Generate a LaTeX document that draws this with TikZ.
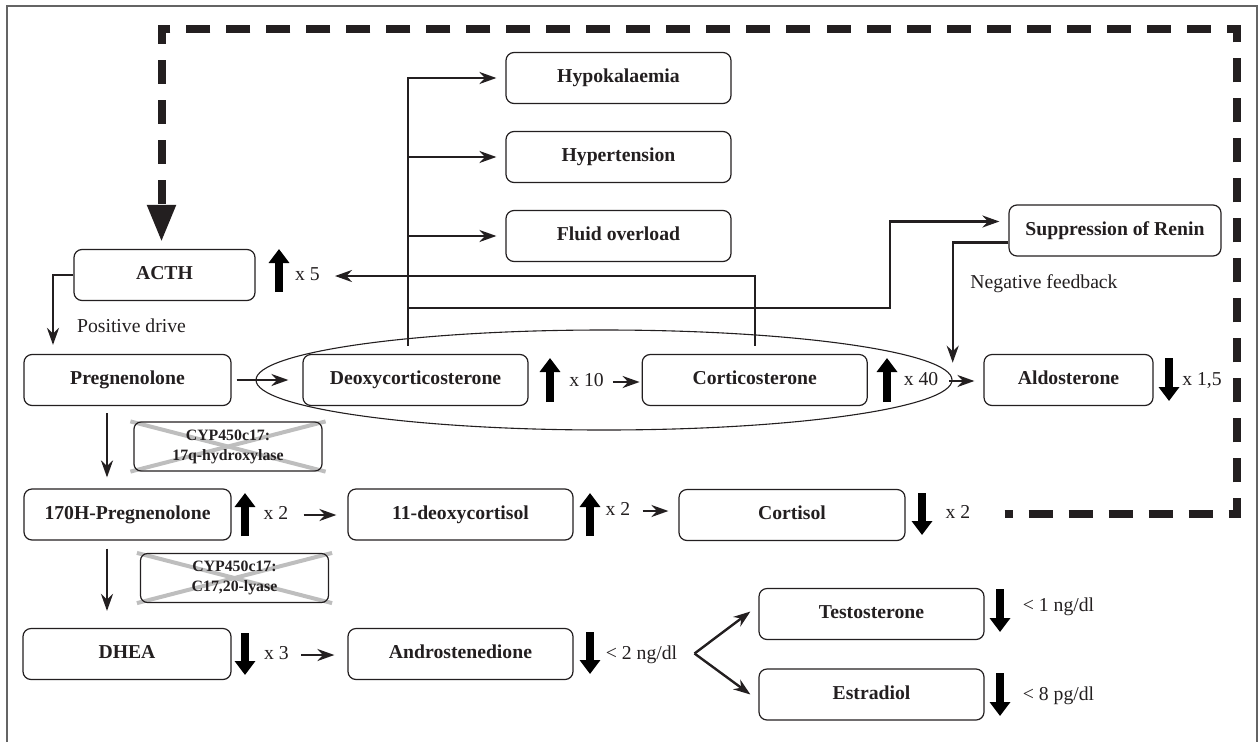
\documentclass[tikz,border=0pt]{standalone}
\usepackage{fontspec}
\setmainfont{Liberation Serif}
\usetikzlibrary{arrows.meta,backgrounds}
\definecolor{ink}{RGB}{35,31,32}
\definecolor{crossgray}{RGB}{190,190,190}
\definecolor{framegray}{RGB}{100,100,100}
\newcommand{\diagfont}{\fontsize{19.7pt}{23pt}\selectfont}
\newcommand{\enzfont}{\fontsize{15.8pt}{20pt}\selectfont}

\begin{document}
\begin{tikzpicture}[x=1pt,y=-1pt,
  hbox/.style={draw=ink,text=ink,rounded corners=8pt,line width=1.2pt,minimum height=51pt,
    text height=13pt,text depth=4pt,font=\bfseries\diagfont},
  enzbox/.style={draw=ink,text=ink,rounded corners=7pt,line width=1.2pt,minimum width=188pt,
    minimum height=49pt,align=center,font=\bfseries\enzfont},
  note/.style={text=ink,inner sep=0pt,text height=13pt,text depth=4pt,font=\diagfont},
  flow/.style={draw=ink,line width=2.4pt,-{Stealth[length=17pt,width=12pt]}},
  trend/.style={draw=black,line width=8pt,-{Triangle[length=14pt,width=20pt]}},
  feedback/.style={draw=ink,line width=8pt,dash pattern=on 24pt off 16pt,dash phase=16pt,
    -{Triangle[length=37pt,width=27pt]}}]
\useasboundingbox (0,0) rectangle (1260,742);
% frame, open at the bottom
\draw[framegray,line width=1.5pt] (7,742) -- (7,6) -- (1257,6) -- (1257,742);

% mineralocorticoid group
\draw[ink,line width=1.1pt] (604,380) ellipse [x radius=348,y radius=50];

% hormones
\node[hbox,minimum width=181pt] (acth) at (164.5,275) {ACTH};
\node[hbox,minimum width=207pt] (preg) at (127.5,380) {Pregnenolone};
\node[hbox,minimum width=225pt] (deoxy) at (415.5,380) {Deoxycorticosterone};
\node[hbox,minimum width=225pt] (cortico) at (754.7,380) {Corticosterone};
\node[hbox,minimum width=169pt] (aldo) at (1068.5,380) {Aldosterone};
\node[hbox,minimum width=212pt] (renin) at (1115,230.5) {Suppression of Renin};
\node[hbox,minimum width=225pt] (hypok) at (618.5,78) {Hypokalaemia};
\node[hbox,minimum width=225pt] (hypert) at (618.5,157) {Hypertension};
\node[hbox,minimum width=225pt] (fluid) at (618.5,236) {Fluid overload};
\node[hbox,minimum width=207pt] (ohpreg) at (127.5,514.5) {170H-Pregnenolone};
\node[hbox,minimum width=225pt] (deoxcort) at (460.5,514.5) {11-deoxycortisol};
\node[hbox,minimum width=226pt] (cortisol) at (792,515) {Cortisol};
\node[hbox,minimum width=208pt] (dhea) at (127,654) {DHEA};
\node[hbox,minimum width=225pt] (andro) at (460.5,654) {Androstenedione};
\node[hbox,minimum width=225pt] (testo) at (871.5,614) {Testosterone};
\node[hbox,minimum width=225pt] (estr) at (871.5,694.5) {Estradiol};

% blocked enzymes
\node[enzbox] (enzA) at (228,446.5) {CYP450c17:\\17q-hydroxylase};
\node[enzbox] (enzB) at (234.5,578) {CYP450c17:\\C17,20-lyase};
\begin{scope}[on background layer]
  \foreach \e in {enzA,enzB} {
    \draw[crossgray,line width=4pt] ([xshift=-3pt]\e.north west) -- ([xshift=3pt]\e.south east);
    \draw[crossgray,line width=4pt] ([xshift=-3pt]\e.south west) -- ([xshift=3pt]\e.north east);
  }
\end{scope}

% levels
\node[note] (facth) at (307.5,276) {x 5};
\node[note] (fdeoxy) at (586.5,382) {x 10};
\node[note] (fcortico) at (921,381) {x 40};
\node[note] (faldo) at (1202,381) {x 1,5};
\node[note] (fohpreg) at (276,515) {x 2};
\node[note] (fdeoxcort) at (618,511) {x 2};
\node[note] (fcortisol) at (958,514) {x 2};
\node[note] (fdhea) at (276.5,655) {x 3};
\node[note] (fandro) at (641.5,655) {< 2 ng/dl};
\node[note] (ftesto) at (1058.5,607) {< 1 ng/dl};
\node[note] (festr) at (1058.5,696) {< 8 pg/dl};
\node[note] (pos) at (131.5,328) {Positive drive};
\node[note] (neg) at (1044,284) {Negative feedback};

% up and down
\foreach \x/\a/\b in {279/249/292,550/358/402,887/358/402,245/493/536,590/493/536}
  \draw[trend] (\x,\b) -- (\x,\a);
\foreach \x/\a/\b in {1169/358/401,922/493/535,245/633/675,590/632/674,1000/589/632,1000/673/716}
  \draw[trend] (\x,\a) -- (\x,\b);

% pathway
\draw[flow] (acth.west) -| ([xshift=-74.5pt,yshift=9pt]preg.north);
\draw[flow] ([xshift=5pt]preg.east) -- ([xshift=-14pt]deoxy.west);
\draw[flow] ([xshift=9pt]fdeoxy.east) -- ([xshift=-2pt]fdeoxy.east -| cortico.west);
\draw[flow] ([xshift=11pt]fcortico.east) -- ([xshift=-9pt]fcortico.east -| aldo.west);
\draw[flow] ([xshift=-20.5pt,yshift=-7pt]preg.south) -- ([xshift=-20.5pt,yshift=11pt]ohpreg.north);
\draw[flow] ([xshift=-20.5pt,yshift=-8pt]ohpreg.south) -- ([xshift=-20pt,yshift=17pt]dhea.north);
\draw[flow] ([xshift=15pt]fohpreg.east) -- ([xshift=-11pt]fohpreg.east -| deoxcort.west);
\draw[flow] ([xshift=12pt]fdeoxcort.east) -- ([xshift=-10pt]fdeoxcort.east -| cortisol.west);
\draw[flow] ([xshift=12pt]fdhea.east) -- ([xshift=-13pt]fdhea.east -| andro.west);
\coordinate (split) at (694.5,653.5);
\path (split) edge[flow] ([xshift=-8pt,yshift=2.5pt]testo.west)
              edge[flow] ([xshift=-8pt]estr.west);

% effects of deoxycorticosterone
\coordinate (trunk) at ([xshift=-7.5pt,yshift=8pt]deoxy.north);
\coordinate (rbend) at (890,308);
\draw[flow] (trunk) |- ([xshift=-9pt]hypok.west);
\draw[flow] (trunk |- hypert.west) -- ([xshift=-9pt]hypert.west);
\draw[flow] (trunk |- fluid.west) -- ([xshift=-9pt]fluid.west);
\draw[flow] (trunk |- rbend) -- (rbend) |- ([xshift=-9pt,yshift=9pt]renin.west);
\draw[flow] ([yshift=8pt]cortico.north) |- ([xshift=15pt]facth.east);
\coordinate (fb) at (952.7,362.7);
\draw[flow] ([yshift=-12pt]renin.west) -| (fb);

% cortisol feedback to ACTH
\coordinate (loop) at (1237,29);
\draw[feedback] ([xshift=34pt]fcortisol.east) -| (loop) -| ([xshift=-3pt,yshift=7pt]acth.north);
\end{tikzpicture}
\end{document}
